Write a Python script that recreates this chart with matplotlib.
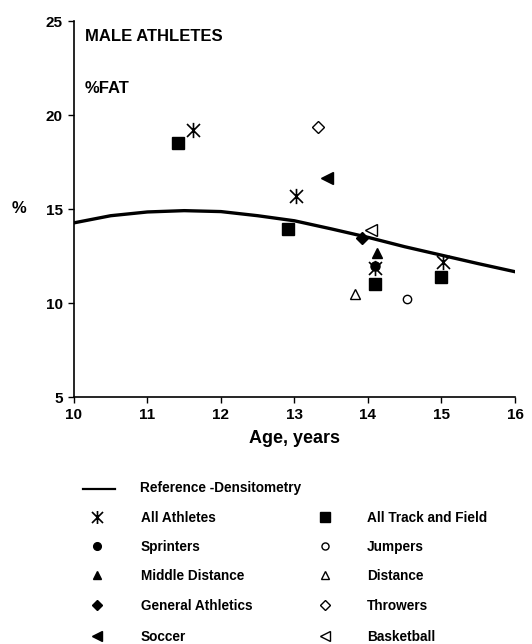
import matplotlib
matplotlib.use("Agg")
import matplotlib.pyplot as plt
from matplotlib.path import Path

plt.rcParams['font.family'] = ['Liberation Sans', 'DejaVu Sans']
plt.rcParams['font.weight'] = 'bold'

# reference curve (densitometry), read at half-year steps
ref_age = [10, 10.5, 11, 11.5, 12, 12.5, 13, 13.5, 14, 14.5, 15, 15.5, 16]
ref_fat = [14.27, 14.65, 14.85, 14.92, 14.87, 14.65, 14.38, 13.95, 13.5, 13.0, 12.55, 12.1, 11.67]

# athlete groups
all_athletes_age = [11.62, 13.02, 14.1, 15.02]
all_athletes_fat = [19.2, 15.7, 11.85, 12.18]
track_field_age = [11.41, 12.91, 14.1, 15.0]
track_field_fat = [18.5, 13.95, 11.0, 11.37]
sprinters_age = [14.1]
sprinters_fat = [12.0]
jumpers_age = [14.53]
jumpers_fat = [10.2]
middle_age = [14.12]
middle_fat = [12.64]
distance_age = [13.83]
distance_fat = [10.48]
general_age = [13.92]
general_fat = [13.47]
throwers_age = [13.32]
throwers_fat = [19.35]
soccer_age = [13.44]
soccer_fat = [16.67]
basketball_age = [14.04]
basketball_fat = [13.88]

# asterisk: vertical bar crossed by an X
ASTER = Path([(0, -1), (0, 1), (-0.85, -0.85), (0.85, 0.85), (-0.85, 0.85), (0.85, -0.85)],
             [Path.MOVETO, Path.LINETO, Path.MOVETO, Path.LINETO, Path.MOVETO, Path.LINETO])

groups = [
    ("All Athletes", ASTER, True, 11, all_athletes_age, all_athletes_fat),
    ("All Track and Field", "s", True, 8, track_field_age, track_field_fat),
    ("Sprinters", "o", True, 6.5, sprinters_age, sprinters_fat),
    ("Jumpers", "o", False, 6, jumpers_age, jumpers_fat),
    ("Middle Distance", "^", True, 7, middle_age, middle_fat),
    ("Distance", "^", False, 6.5, distance_age, distance_fat),
    ("General Athletics", "D", True, 6.5, general_age, general_fat),
    ("Throwers", "D", False, 6.5, throwers_age, throwers_fat),
    ("Soccer", "<", True, 8, soccer_age, soccer_fat),
    ("Basketball", "<", False, 8, basketball_age, basketball_fat),
]

fig = plt.figure(figsize=(5.32, 6.44), dpi=100)
ax = fig.add_axes([0.139, 0.3835, 0.829, 0.5835])

ax.plot(ref_age, ref_fat, color='black', lw=2.4, zorder=2)


def style(marker, filled, size):
    kw = dict(marker=marker, markersize=size, linestyle='none',
              markeredgecolor='black', markeredgewidth=1.0)
    kw['markerfacecolor'] = 'black' if filled else 'white'
    if marker is ASTER:
        kw['markeredgewidth'] = 1.2
    return kw


for label, marker, filled, size, xs, ys in groups:
    ax.plot(xs, ys, zorder=3, **style(marker, filled, size))

ax.set_xlim(10, 16)
ax.set_ylim(5, 25)
ax.set_xticks(range(10, 17))
ax.set_yticks([5, 10, 15, 20, 25])
ax.spines['top'].set_visible(False)
ax.spines['right'].set_visible(False)
ax.spines['left'].set_linewidth(1.2)
ax.spines['bottom'].set_linewidth(1.2)
ax.tick_params(direction='out', length=4, width=1.0, labelsize=11, pad=4)
for t in ax.get_xticklabels() + ax.get_yticklabels():
    t.set_fontweight('bold')
ax.set_xlabel("Age, years", fontsize=13, fontweight='bold', labelpad=6)

ax.text(0.025, 0.96, "MALE ATHLETES", transform=ax.transAxes, fontsize=12,
        fontweight='bold', va='center', ha='left')
ax.text(0.025, 0.822, "%FAT", transform=ax.transAxes, fontsize=12,
        fontweight='bold', va='center', ha='left')
fig.text(19 / 532, 1 - 209 / 644, "%", fontsize=12, fontweight='bold',
         ha='center', va='center')

# legend block, laid out in pixel coordinates below the axes
lg = fig.add_axes([0, 0, 1, 244 / 644])
lg.set_xlim(0, 532)
lg.set_ylim(644, 400)
lg.axis('off')

lg.plot([83, 115], [489, 489], color='black', lw=1.6)
lg.text(140, 488, "Reference -Densitometry", fontsize=9.8, fontweight='bold', va='center')

rows = [517, 546, 575, 605, 636]
for i, (label, marker, filled, size, xs, ys) in enumerate(groups):
    row = rows[i // 2]
    if i % 2 == 0:
        mx, tx = 97, 141
    else:
        mx, tx = 325, 367
    lg.plot([mx], [row], clip_on=False, **style(marker, filled, size * 0.85))
    lg.text(tx, row + 1, label, fontsize=9.8, fontweight='bold', va='center')

fig.savefig("out.png", dpi=100)
